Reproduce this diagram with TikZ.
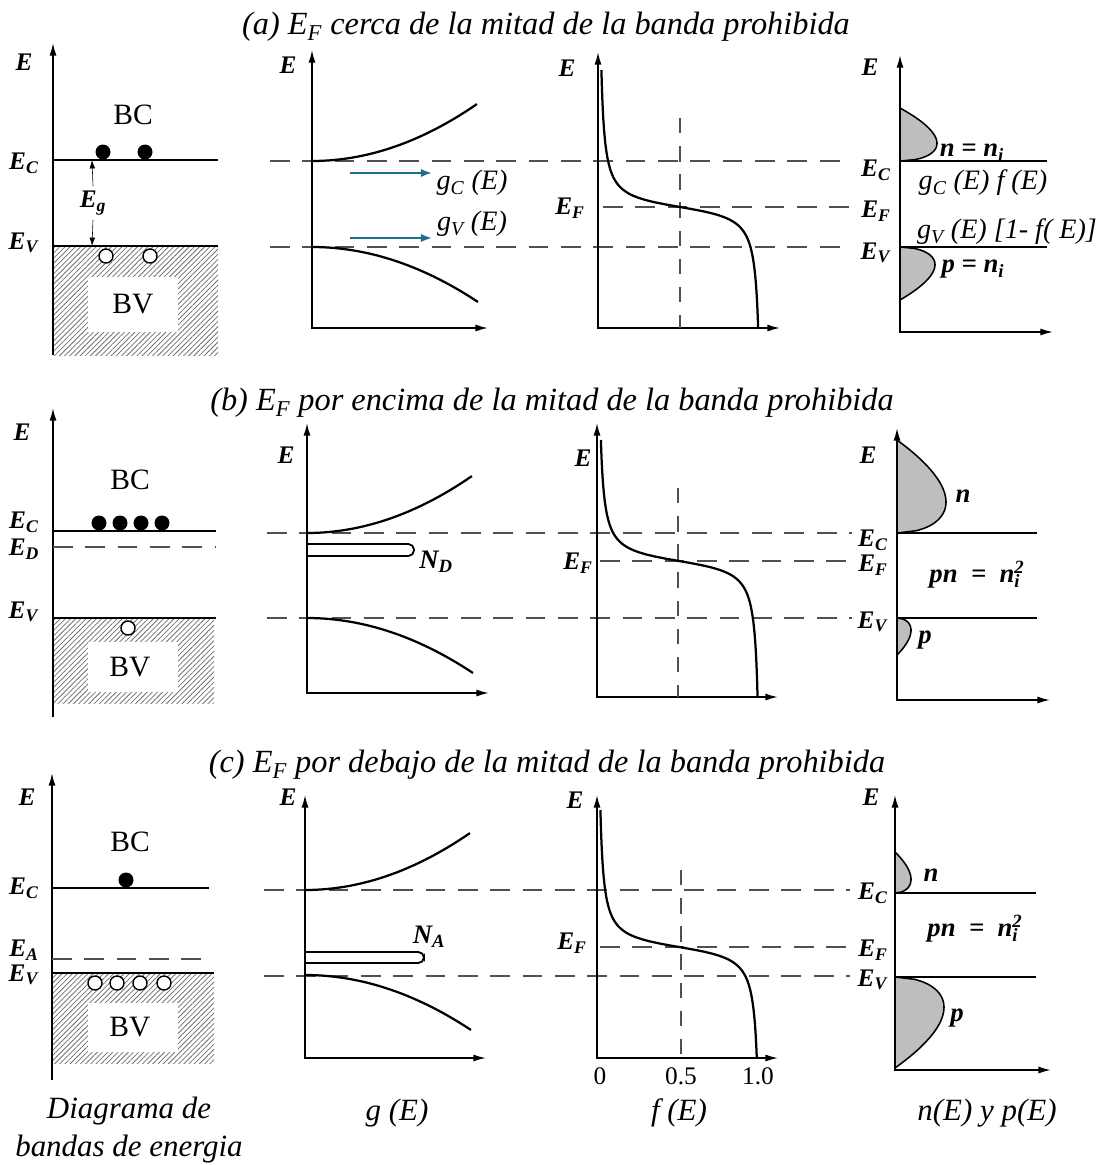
\documentclass[tikz,border=0pt]{standalone}
\usepackage{fontspec}
\setmainfont{Liberation Serif}
\usepackage{tikz}
\usetikzlibrary{arrows.meta,patterns.meta}
\definecolor{arrowblue}{HTML}{1F6E8C}
\definecolor{bumpgray}{HTML}{BEBEBE}
\definecolor{dashgray}{HTML}{505050}
\definecolor{hatchgray}{HTML}{707070}

\newcommand{\Elab}[1]{\textbf{\textit{E}}\textsubscript{\textbf{\textit{#1}}}}
% density of states curves (axis x, E_C, E_V)
\newcommand{\gcurves}[3]{%
  \draw[curve] plot[domain=0:1,samples=30] ({#1+165*\x},{#2-57*\x*\x});
  \draw[curve] plot[domain=0:1,samples=30] ({#1+166*\x},{#3+55*\x*\x});}
% carrier bump (axis x, band edge, tail end, width)
\newcommand{\cbump}[4]{%
  \filldraw[bump] plot[domain=0:1,samples=40] ({#1+#4*sqrt(\x)*(1-\x)/0.3849},{#2+(#3-#2)*\x}) -- cycle;}
% occupation curve (axis x, E_F, top, bottom)
\newcommand{\fermi}[4]{%
  \draw[curve] plot[domain=#3:#4,samples=120] ({#1+164*(0.5-atan((#2-\x)/9)/180)},\x);}

\begin{document}
\begin{tikzpicture}[x=0.025cm, y=-0.025cm,
    axis/.style={line width=1.1pt, -{Latex[length=9pt,width=5pt]}},
    axes/.style={line width=1.1pt, {Latex[length=9pt,width=5pt]}-{Latex[length=9pt,width=5pt]}},
    band/.style={line width=1.5pt},
    curve/.style={line width=1.6pt},
    level/.style={draw=dashgray, line width=1pt, dash pattern=on 14pt off 9pt},
    vlevel/.style={draw=dashgray, line width=1pt, dash pattern=on 11pt off 9pt},
    lbl/.style={font=\fontsize{18}{20}\selectfont},
    gl/.style={font=\fontsize{20}{22}\selectfont\itshape},
    bl/.style={font=\fontsize{19}{21}\selectfont\bfseries\itshape},
    ttl/.style={font=\fontsize{23}{26}\selectfont\itshape},
    captxt/.style={font=\fontsize{22}{27}\selectfont\itshape, align=center},
    txt/.style={font=\fontsize{21}{24}\selectfont},
    bump/.style={fill=bumpgray, draw, line width=1.1pt},
    elec/.style={fill=black},
    hole/.style={fill=white, draw, line width=1pt},
    hatch/.style={pattern={Lines[angle=45,distance=2.6pt,line width=0.55pt]}, pattern color=hatchgray},
    donor/.style={line width=1.3pt, rounded corners=4pt},
    egarrow/.style={-{Latex[length=6pt,width=4pt]}},
    bluearrow/.style={draw=arrowblue, line width=1.4pt, -{Latex[length=8pt,width=6pt]}},
  ]
  \useasboundingbox (0,0) rectangle (1102,1165);

  % ---------------- (a) ----------------
  \node[ttl] (ttla) at (546,27) {(a) E\textsubscript{F} cerca de la mitad de la banda prohibida};
  \fill[hatch] (53,246) rectangle (218,355);
  \fill[white] (88,277) rectangle (178,332);
  \node[txt] (bva) at (133,304) {BV};
  \node[txt] (bca) at (133,115) {BC};
  \draw[axis] (53,355) -- (53,43);
  \draw[band] (53,160) -- (218,160);
  \draw[band] (53,246) -- (218,246);
  \node[lbl] (ea1) at (24,62) {\textbf{\textit{E}}};
  \node[lbl] (eca1) at (24,163) {\Elab{C}};
  \node[lbl] (eva1) at (24,243) {\Elab{V}};
  \fill[elec] (103,152) circle[radius=7.5];
  \fill[elec] (145,152) circle[radius=7.5];
  \draw[hole] (106,256) circle[radius=7];
  \draw[hole] (150,256) circle[radius=7];
  \coordinate (ectop) at (92,160);
  \coordinate (evbot) at (92,246);
  \node[lbl] (ega) at (93,203) {\Elab{g}};
  \draw[egarrow] (ega.north) -- (ectop);
  \draw[egarrow] (ega.south) -- (evbot);

  \draw[level] (270,161) -- (852,161);
  \draw[level] (270,247) -- (852,247);
  \draw[level] (603,207) -- (852,207);

  \draw[axes] (312,50) -- (312,328) -- (488,328);
  \node[lbl] (ea2) at (288,65) {\textbf{\textit{E}}};
  \gcurves{312}{161}{247}
  \node[gl] (gca) at (472,183) {g\textsubscript{C} (E)};
  \node[gl] (gva) at (472,224) {g\textsubscript{V} (E)};
  \coordinate (gcs) at (350,173);
  \coordinate (gvs) at (350,238);
  \draw[bluearrow] (gcs) -- ++(82,0);
  \draw[bluearrow] (gvs) -- ++(82,0);

  \draw[axes] (598,52) -- (598,328) -- (780,328);
  \draw[vlevel] (680,118) -- (680,328);
  \node[lbl] (ea3) at (567,68) {\textbf{\textit{E}}};
  \node[lbl] (efa3) at (570,208) {\Elab{F}};
  \fermi{598}{207}{70}{328}

  \draw[axes] (900,55) -- (900,332) -- (1053,332);
  \cbump{900}{161}{108}{37}
  \cbump{900}{247}{300}{35}
  \draw[band] (900,161) -- (1047,161);
  \draw[band] (900,247) -- (1047,247);
  \node[lbl] (ea4) at (870,67) {\textbf{\textit{E}}};
  \node[lbl] (eca4) at (876,170) {\Elab{C}};
  \node[lbl] (efa4) at (876,211) {\Elab{F}};
  \node[lbl] (eva4) at (876,253) {\Elab{V}};
  \node[bl] (na) at (972,153) {n = n\textsubscript{i}};
  \node[bl] (pa) at (973,269) {p = n\textsubscript{i}};
  \node[gl] (gfa) at (983,183) {g\textsubscript{C} (E) f (E)};
  \node[gl] (gfb) at (1007,232) {g\textsubscript{V} (E) [1- f( E)]};

  % ---------------- (b) ----------------
  \node[ttl] (ttlb) at (552,403) {(b) E\textsubscript{F} por encima de la mitad de la banda prohibida};
  \fill[hatch] (53,618) rectangle (214,703);
  \fill[white] (88,642) rectangle (178,692);
  \node[txt] (bvb) at (130,667) {BV};
  \node[txt] (bcb) at (130,480) {BC};
  \draw[axis] (53,717) -- (53,408);
  \draw[band] (53,531) -- (216,531);
  \draw[level] (53,547) -- (216,547);
  \draw[band] (53,618) -- (216,618);
  \node[lbl] (eb1) at (22,432) {\textbf{\textit{E}}};
  \node[lbl] (ecb1) at (24,522) {\Elab{C}};
  \node[lbl] (edb1) at (24,549) {\Elab{D}};
  \node[lbl] (evb1) at (24,612) {\Elab{V}};
  \foreach \ex in {99,120,141,162}
    \fill[elec] (\ex,523) circle[radius=7.5];
  \draw[hole] (128,628) circle[radius=7];

  \draw[level] (267,533) -- (852,533);
  \draw[level] (267,618) -- (852,618);
  \draw[level] (600,561) -- (852,561);

  \draw[axes] (307,423) -- (307,693) -- (489,693);
  \node[lbl] (eb2) at (286,455) {\textbf{\textit{E}}};
  \gcurves{307}{533}{618}
  \draw[donor] (307,544) -- (414,544) -- (414,556) -- (307,556);
  \node[bl] (ndb) at (436,562) {N\textsubscript{D}};

  \draw[axes] (597,423) -- (597,697) -- (778,697);
  \draw[vlevel] (678,488) -- (678,697);
  \node[lbl] (eb3) at (583,458) {\textbf{\textit{E}}};
  \node[lbl] (efb3) at (578,563) {\Elab{F}};
  \fermi{597}{561}{440}{697}

  \draw[axes] (897,428) -- (897,700) -- (1050,700);
  \cbump{897}{533}{440}{49}
  \cbump{897}{618}{655}{14}
  \draw[band] (897,533) -- (1037,533);
  \draw[band] (897,618) -- (1037,618);
  \node[lbl] (eb4) at (868,455) {\textbf{\textit{E}}};
  \node[lbl] (ecb4) at (873,540) {\Elab{C}};
  \node[lbl] (efb4) at (873,565) {\Elab{F}};
  \node[lbl] (evb4) at (873,622) {\Elab{V}};
  \node[bl] (nb) at (963,496) {n};
  \node[bl] (pb) at (925,640) {p};
  \node[bl] (pnb) at (977,575) {pn \ = \ n\rlap{\textsubscript{i}}\textsuperscript{2}};

  % ---------------- (c) ----------------
  \node[ttl] (ttlc) at (547,765) {(c) E\textsubscript{F} por debajo de la mitad de la banda prohibida};
  \fill[hatch] (52,973) rectangle (214,1063);
  \fill[white] (88,1003) rectangle (178,1052);
  \node[txt] (bvc) at (130,1027) {BV};
  \node[txt] (bcc) at (130,842) {BC};
  \draw[axis] (52,1080) -- (52,773);
  \draw[band] (52,888) -- (209,888);
  \draw[level] (52,959) -- (209,959);
  \draw[band] (52,973) -- (214,973);
  \node[lbl] (ec1) at (27,797) {\textbf{\textit{E}}};
  \node[lbl] (ecc1) at (24,888) {\Elab{C}};
  \node[lbl] (eac1) at (24,950) {\Elab{A}};
  \node[lbl] (evc1) at (24,975) {\Elab{V}};
  \fill[elec] (126,880) circle[radius=7.5];
  \foreach \hx in {95,117,140,164}
    \draw[hole] (\hx,983) circle[radius=7];

  \draw[level] (264,890) -- (850,890);
  \draw[level] (264,976) -- (850,976);
  \draw[level] (600,947) -- (850,947);

  \draw[axes] (305,795) -- (305,1058) -- (486,1058);
  \node[lbl] (ec2) at (288,797) {\textbf{\textit{E}}};
  \gcurves{305}{890}{975}
  \draw[donor] (305,952) -- (424,952) -- (424,963) -- (305,963);
  \node[bl] (nac) at (429,937) {N\textsubscript{A}};

  \draw[axes] (597,795) -- (597,1058) -- (778,1058);
  \draw[vlevel] (681,870) -- (681,1058);
  \node[lbl] (ec3) at (575,800) {\textbf{\textit{E}}};
  \node[lbl] (efc3) at (572,943) {\Elab{F}};
  \fermi{597}{947}{810}{1058}
  \node[lbl] (t0) at (600,1076) {0};
  \node[lbl] (t05) at (681,1076) {0.5};
  \node[lbl] (t10) at (758,1076) {1.0};

  \draw[axes] (895,795) -- (895,1070) -- (1051,1070);
  \cbump{895}{893}{852}{16}
  \cbump{895}{977}{1068}{49}
  \draw[band] (895,893) -- (1036,893);
  \draw[band] (895,977) -- (1036,977);
  \node[lbl] (ec4) at (871,797) {\textbf{\textit{E}}};
  \node[lbl] (ecc4) at (873,893) {\Elab{C}};
  \node[lbl] (efc4) at (873,950) {\Elab{F}};
  \node[lbl] (evc4) at (873,980) {\Elab{V}};
  \node[bl] (nc) at (931,875) {n};
  \node[bl] (pc) at (957,1018) {p};
  \node[bl] (pnc) at (975,929) {pn \ = \ n\rlap{\textsubscript{i}}\textsuperscript{2}};

  % captions
  \node[captxt] (capband) at (129,1130) {Diagrama de\\bandas de energia};
  \node[captxt] (capg) at (397,1113) {g (E)};
  \node[captxt] (capf) at (679,1113) {f (E)};
  \node[captxt] (capnp) at (987,1113) {n(E) y p(E)};
\end{tikzpicture}
\end{document}
